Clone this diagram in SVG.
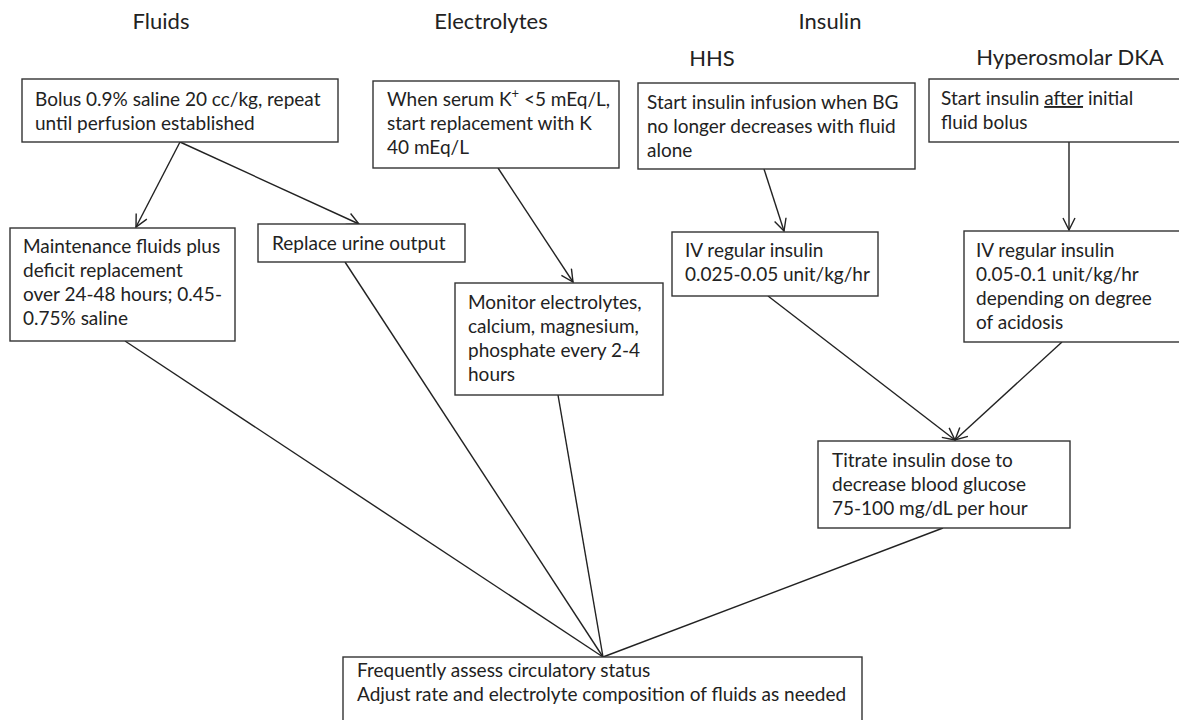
<svg xmlns="http://www.w3.org/2000/svg" width="1179" height="720" viewBox="0 0 1179 720">
<style>
.box{fill:#fff;stroke:#333;stroke-width:1.4}
.t{font-family:Lato,"Open Sans","Liberation Sans",sans-serif;font-size:19px;fill:#222}
.h{font-family:Lato,"Open Sans","Liberation Sans",sans-serif;font-size:22px;fill:#222;text-anchor:middle}
.c{stroke:#222;stroke-width:1.4;fill:none}
.a{marker-end:url(#arr)}
</style>
<defs>
<marker id="arr" viewBox="0 0 14 14" refX="13" refY="7" markerWidth="14" markerHeight="14" markerUnits="userSpaceOnUse" orient="auto">
<path d="M1,1 L13,7 L1,13" fill="none" stroke="#222" stroke-width="1.4"/>
</marker>
</defs>
<rect width="1179" height="720" fill="#fff"/>
<g id="headings">
<text class="h" x="161" y="29">Fluids</text>
<text class="h" x="491" y="29">Electrolytes</text>
<text class="h" x="830" y="29">Insulin</text>
<text class="h" x="712" y="66">HHS</text>
<text class="h" x="1070" y="65">Hyperosmolar DKA</text>
</g>
<g id="connectors">
<line class="c a" x1="180" y1="142" x2="136" y2="227"/>
<line class="c a" x1="180" y1="142" x2="359" y2="224"/>
<line class="c a" x1="498" y1="168" x2="573" y2="282"/>
<line class="c a" x1="764" y1="169" x2="784" y2="231"/>
<line class="c a" x1="1069" y1="142" x2="1069" y2="230"/>
<line class="c a" x1="768" y1="296" x2="955" y2="440"/>
<line class="c a" x1="1062" y1="342" x2="955" y2="440"/>
<line class="c" x1="125" y1="341" x2="603" y2="657"/>
<line class="c" x1="345" y1="262" x2="603" y2="657"/>
<line class="c" x1="558" y1="395" x2="603" y2="657"/>
<line class="c" x1="943" y1="528" x2="603" y2="657"/>
</g>
<g id="bolus">
<rect class="box" x="22" y="79" width="316" height="63"/>
<text class="t" x="35" y="106">Bolus 0.9% saline 20 cc/kg, repeat</text>
<text class="t" x="35" y="130">until perfusion established</text>
</g>
<g id="potassium">
<rect class="box" x="373" y="81" width="246" height="87"/>
<text class="t" x="387" y="106">When serum K<tspan font-size="13" baseline-shift="super">+</tspan> &lt;5 mEq/L,</text>
<text class="t" x="387" y="130">start replacement with K</text>
<text class="t" x="387" y="154">40 mEq/L</text>
</g>
<g id="hhs-start">
<rect class="box" x="638" y="83" width="277" height="86"/>
<text class="t" x="647" y="109">Start insulin infusion when BG</text>
<text class="t" x="647" y="133">no longer decreases with fluid</text>
<text class="t" x="647" y="157">alone</text>
</g>
<g id="dka-start">
<rect class="box" x="929" y="79" width="260" height="63"/>
<text class="t" x="941" y="105">Start insulin <tspan text-decoration="underline">after</tspan> initial</text>
<text class="t" x="941" y="129">fluid bolus</text>
</g>
<g id="maintenance">
<rect class="box" x="10" y="228" width="225" height="113"/>
<text class="t" x="23" y="253">Maintenance fluids plus</text>
<text class="t" x="23" y="277">deficit replacement</text>
<text class="t" x="23" y="301">over 24-48 hours; 0.45-</text>
<text class="t" x="23" y="325">0.75% saline</text>
</g>
<g id="urine">
<rect class="box" x="258" y="224" width="207" height="38"/>
<text class="t" x="272" y="250">Replace urine output</text>
</g>
<g id="monitor">
<rect class="box" x="455" y="283" width="208" height="112"/>
<text class="t" x="468" y="309">Monitor electrolytes,</text>
<text class="t" x="468" y="333">calcium, magnesium,</text>
<text class="t" x="468" y="357">phosphate every 2-4</text>
<text class="t" x="468" y="381">hours</text>
</g>
<g id="hhs-iv">
<rect class="box" x="672" y="232" width="206" height="64"/>
<text class="t" x="685" y="257">IV regular insulin</text>
<text class="t" x="685" y="281">0.025-0.05 unit/kg/hr</text>
</g>
<g id="dka-iv">
<rect class="box" x="964" y="231" width="225" height="111"/>
<text class="t" x="976" y="257">IV regular insulin</text>
<text class="t" x="976" y="281">0.05-0.1 unit/kg/hr</text>
<text class="t" x="976" y="305">depending on degree</text>
<text class="t" x="976" y="329">of acidosis</text>
</g>
<g id="titrate">
<rect class="box" x="818" y="441" width="252" height="87"/>
<text class="t" x="832" y="467">Titrate insulin dose to</text>
<text class="t" x="832" y="491">decrease blood glucose</text>
<text class="t" x="832" y="515">75-100 mg/dL per hour</text>
</g>
<g id="assess">
<rect class="box" x="343" y="657" width="519" height="80"/>
<text class="t" x="357" y="677">Frequently assess circulatory status</text>
<text class="t" x="357" y="701">Adjust rate and electrolyte composition of fluids as needed</text>
</g>
</svg>
